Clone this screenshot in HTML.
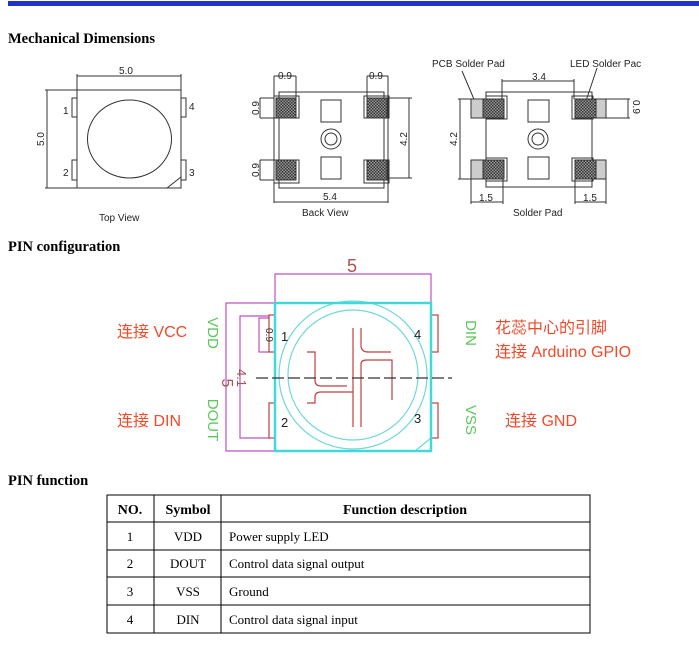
<!DOCTYPE html>
<html><head><meta charset="utf-8"><style>
body{margin:0;background:#fff;width:699px;height:656px;overflow:hidden}
svg{display:block}
.h{font-family:"Liberation Serif",serif;font-weight:bold;font-size:14.5px;fill:#000}
.s{font-family:"Liberation Sans",sans-serif;font-size:10px;fill:#222}
.t{font-family:"Liberation Serif",serif;font-size:13px;fill:#000}
.cn{font-family:"Liberation Sans","Noto Sans CJK SC",sans-serif;font-size:16px;fill:#f04a2a}
.g{font-family:"Liberation Sans",sans-serif;font-size:15px;fill:#5cc85c}
</style></head><body>
<svg width="699" height="656" viewBox="0 0 699 656" xmlns="http://www.w3.org/2000/svg">
<defs><pattern id="hx" width="3" height="3" patternUnits="userSpaceOnUse"><rect width="3" height="3" fill="#999"/><rect width="1.5" height="1.5" fill="#333"/><rect x="1.5" y="1.5" width="1.5" height="1.5" fill="#333"/></pattern></defs>
<rect x="8" y="1" width="691" height="5" fill="#2233cc"/>
<text class="h" x="8" y="43">Mechanical  Dimensions</text>
<g fill="none" stroke="#333" stroke-width="1">
<!-- top view -->
<rect x="77" y="90" width="104" height="98"/>
<ellipse cx="129.5" cy="139" rx="42" ry="39"/>
<line x1="167" y1="188" x2="181" y2="177"/>
<rect x="72" y="98" width="5" height="19"/><rect x="72" y="160" width="5" height="20"/>
<rect x="181" y="98" width="5" height="19"/><rect x="181" y="160" width="5" height="20"/>
<line x1="77" y1="76" x2="181" y2="76"/><line x1="77" y1="74" x2="77" y2="90"/><line x1="181" y1="74" x2="181" y2="90"/>
<line x1="47" y1="90" x2="47" y2="188"/><line x1="45" y1="90" x2="77" y2="90"/><line x1="45" y1="188" x2="77" y2="188"/>
<!-- back view -->
<rect x="279" y="92" width="105" height="96"/>
<rect x="321" y="100" width="20" height="22"/><rect x="321" y="157" width="20" height="22"/>
<circle cx="331" cy="139" r="10"/><circle cx="331" cy="139" r="6"/>
<rect x="274" y="96" width="25" height="22"/><rect x="274" y="160" width="25" height="23"/>
<rect x="364" y="96" width="25" height="22"/><rect x="364" y="160" width="25" height="23"/>
<line x1="274" y1="76" x2="296" y2="76"/><line x1="274" y1="76" x2="274" y2="203"/><line x1="296" y1="76" x2="296" y2="98"/>
<line x1="367" y1="76" x2="388" y2="76"/><line x1="367" y1="76" x2="367" y2="98"/><line x1="388" y1="76" x2="388" y2="203"/>
<line x1="274" y1="202" x2="388" y2="202"/>
<line x1="260" y1="98" x2="274" y2="98"/><line x1="260" y1="118" x2="274" y2="118"/><line x1="260" y1="98" x2="260" y2="118"/>
<line x1="260" y1="160" x2="274" y2="160"/><line x1="260" y1="180" x2="274" y2="180"/><line x1="260" y1="160" x2="260" y2="180"/>
<line x1="389" y1="98" x2="412" y2="98"/><line x1="389" y1="178" x2="412" y2="178"/><line x1="409" y1="98" x2="409" y2="178"/>
<!-- solder pad -->
<rect x="486" y="92" width="106" height="95"/>
<rect x="528" y="100" width="21" height="22"/><rect x="528" y="157" width="21" height="22"/>
<circle cx="538" cy="139" r="10"/><circle cx="538" cy="139" r="6"/>
<rect x="486" y="96" width="21" height="23"/><rect x="486" y="158" width="21" height="23"/>
<rect x="572" y="96" width="21" height="23"/><rect x="572" y="158" width="21" height="23"/>
<line x1="502" y1="81" x2="574" y2="81"/><line x1="502" y1="79" x2="502" y2="99"/><line x1="574" y1="79" x2="574" y2="99"/>
<line x1="458" y1="99" x2="483" y2="99"/><line x1="458" y1="179" x2="483" y2="179"/><line x1="460" y1="99" x2="460" y2="179"/>
<line x1="471" y1="179" x2="471" y2="204"/><line x1="503" y1="179" x2="503" y2="204"/><line x1="471" y1="202" x2="503" y2="202"/>
<line x1="575" y1="179" x2="575" y2="204"/><line x1="606" y1="179" x2="606" y2="204"/><line x1="575" y1="202" x2="606" y2="202"/>
<line x1="606" y1="99" x2="630" y2="99"/><line x1="606" y1="118" x2="630" y2="118"/><line x1="628" y1="99" x2="628" y2="118"/>
<line x1="462" y1="71" x2="476" y2="104"/><line x1="597" y1="68" x2="585" y2="104"/>
</g>
<g stroke="#333" stroke-width="1">
<rect x="276" y="98" width="20" height="20" fill="url(#hx)"/><rect x="276" y="160" width="20" height="20" fill="url(#hx)"/>
<rect x="367" y="98" width="20" height="20" fill="url(#hx)"/><rect x="367" y="160" width="20" height="20" fill="url(#hx)"/>
<rect x="471" y="99" width="12" height="19" fill="#ccc"/><rect x="483" y="99" width="21" height="19" fill="url(#hx)"/>
<rect x="471" y="160" width="12" height="19" fill="#ccc"/><rect x="483" y="160" width="21" height="19" fill="url(#hx)"/>
<rect x="575" y="99" width="21" height="19" fill="url(#hx)"/><rect x="596" y="99" width="10" height="19" fill="#ccc"/>
<rect x="575" y="160" width="21" height="19" fill="url(#hx)"/><rect x="596" y="160" width="10" height="19" fill="#ccc"/>
</g>
<g class="s">
<text x="119" y="74">5.0</text><text x="63" y="114">1</text><text x="63" y="176">2</text><text x="189" y="110">4</text><text x="189" y="176">3</text>
<text transform="translate(44,146) rotate(-90)">5.0</text>
<text x="99" y="221">Top View</text>
<text x="278" y="79">0.9</text><text x="369" y="79">0.9</text><text x="323" y="200">5.4</text><text x="302" y="216">Back View</text>
<text transform="translate(259,115) rotate(-90)">0.9</text><text transform="translate(259,177) rotate(-90)">0.9</text>
<text transform="translate(407,146) rotate(-90)">4.2</text>
<text x="432" y="67">PCB Solder Pad</text><text x="570" y="67">LED Solder Pac</text>
<text x="532" y="80">3.4</text><text x="479" y="201">1.5</text><text x="583" y="201">1.5</text>
<text x="513" y="216">Solder Pad</text>
<text transform="translate(457,146) rotate(-90)">4.2</text>
<text transform="translate(633,100) rotate(90)">0.9</text>
</g>
<text class="h" x="8" y="251">PIN  configuration</text>
<!-- pin diagram -->
<g fill="none" stroke="#c050c0" stroke-width="1.2">
<polyline points="275,303 275,274 431,274 431,303"/>
<polyline points="275,303 226,303 226,451 275,451"/>
<polyline points="269,316 240,316 240,438 269,438"/>
<polyline points="269,318 259,318 259,352 269,352"/>
</g>
<g fill="none" stroke="#c04040" stroke-width="1.2">
<rect x="269" y="315" width="6" height="37"/><rect x="269" y="403" width="6" height="35"/>
<rect x="431" y="315" width="7" height="37"/><rect x="431" y="403" width="7" height="35"/>
<path d="M353,328 V427 M361,328 V345 Q361,352 368,352 H391 M307,352 H315 V380 Q315,386 321,386 H347 M361,427 V364 Q361,360 367,360 H392 V400 M307,403 H315 V397 Q315,392 321,392 H353"/>
</g>
<g fill="none" stroke="#70d8d8" stroke-width="1.2">
<circle cx="353" cy="375" r="74"/><circle cx="353" cy="375" r="65"/>
<line x1="415" y1="451" x2="431" y2="438"/>
</g>
<rect x="275" y="303" width="156" height="148" fill="none" stroke="#40d8d8" stroke-width="2.5"/>
<line x1="256" y1="378" x2="452" y2="378" stroke="#333" stroke-width="1.2" stroke-dasharray="12,4"/>
<g font-family="Liberation Sans,sans-serif" fill="#222" font-size="13"><text x="281" y="341">1</text><text x="281" y="427">2</text><text x="414" y="339">4</text><text x="414" y="423">3</text></g>
<text x="347" y="272" font-family="Liberation Sans,sans-serif" font-size="18" fill="#b05050">5</text>
<text transform="translate(222,383) rotate(90)" font-family="Liberation Sans,sans-serif" font-size="16" fill="#b05050" text-anchor="middle">5</text>
<text transform="translate(237,378) rotate(90)" font-family="Liberation Sans,sans-serif" font-size="13" fill="#b05050" text-anchor="middle">4.1</text>
<text transform="translate(266,335) rotate(90)" font-family="Liberation Sans,sans-serif" font-size="10" fill="#333" text-anchor="middle">0.9</text>
<g class="g" text-anchor="middle">
<text transform="translate(208,333) rotate(90)">VDD</text><text transform="translate(208,420) rotate(90)">DOUT</text>
<text transform="translate(466,333) rotate(90)">DIN</text><text transform="translate(466,420) rotate(90)">VSS</text>
</g>
<g class="cn"><text x="117" y="337">连接 VCC</text><text x="117" y="426">连接 DIN</text><text x="495" y="333">花蕊中心的引脚</text><text x="495" y="357">连接 Arduino GPIO</text><text x="505" y="426">连接 GND</text></g>
<text class="h" x="8" y="485">PIN function</text>
<!-- table -->
<g stroke="#000" stroke-width="1" fill="none">
<rect x="107" y="495" width="483" height="138"/>
<line x1="154" y1="495" x2="154" y2="633"/><line x1="221" y1="495" x2="221" y2="633"/>
<line x1="107" y1="522" x2="590" y2="522"/><line x1="107" y1="550" x2="590" y2="550"/><line x1="107" y1="577" x2="590" y2="577"/><line x1="107" y1="605" x2="590" y2="605"/>
</g>
<g class="t" text-anchor="middle">
<text x="130" y="514" font-weight="bold" font-size="14">NO.</text><text x="188" y="514" font-weight="bold" font-size="14">Symbol</text><text x="405" y="514" font-weight="bold" font-size="14">Function description</text>
<text x="130" y="541">1</text><text x="188" y="541">VDD</text>
<text x="130" y="568">2</text><text x="188" y="568">DOUT</text>
<text x="130" y="596">3</text><text x="188" y="596">VSS</text>
<text x="130" y="624">4</text><text x="188" y="624">DIN</text>
</g>
<g class="t"><text x="229" y="541">Power supply LED</text><text x="229" y="568">Control data signal output</text><text x="229" y="596">Ground</text><text x="229" y="624">Control data signal input</text></g>
</svg>
</body></html>
